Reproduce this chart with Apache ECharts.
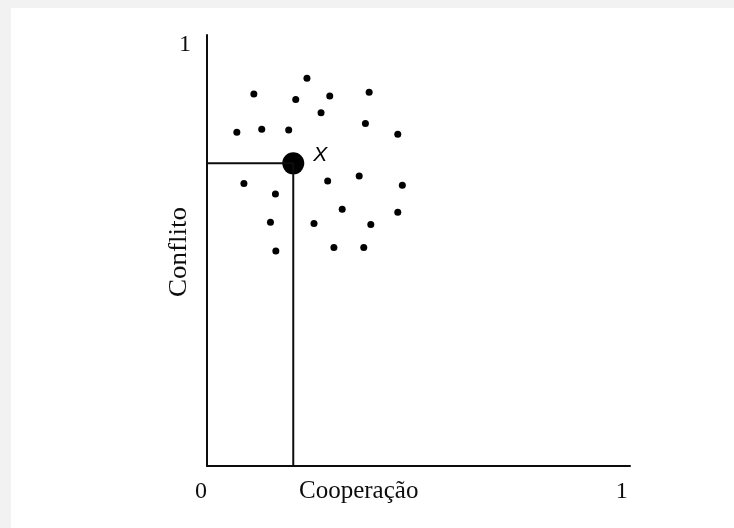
<!DOCTYPE html>
<html>
<head>
<meta charset="utf-8">
<script src="https://cdn.jsdelivr.net/npm/echarts@6/dist/echarts.min.js"></script>
<style>
html,body{margin:0;padding:0;background:#f2f2f2;}
#frame{position:absolute;left:11px;top:8px;right:0;bottom:0;background:#fff;}
#chart{position:absolute;left:0;top:0;width:734px;height:528px;}
</style>
</head>
<body>
<div id="frame"></div>
<div id="chart"></div>
<script>
const xName = 'Cooperação';
const yName = 'Conflito';
const tickLabels = ['0', '1'];
const pointLabel = 'X';
const cloudX = [0.241,0.113,0.214,0.296,0.391,0.275,0.382,0.072,0.132,0.197,0.460,0.089,0.291,0.367,0.471,0.165,0.326,0.460,0.153,0.258,0.395,0.166,0.306,0.378];
const cloudY = [0.921,0.884,0.871,0.879,0.888,0.839,0.814,0.793,0.800,0.798,0.788,0.671,0.677,0.689,0.667,0.646,0.610,0.603,0.579,0.576,0.574,0.511,0.519,0.519];
const pointX = 0.208;
const pointY = 0.719;

const chart = echarts.init(document.getElementById('chart'), null, {renderer:'canvas'});
const serif = 'Liberation Serif';
const ink = '#0d0d0d';
chart.setOption({
  backgroundColor: 'transparent',
  animation: false,
  grid: {left: 207, right: 104, top: 35, bottom: 62},
  xAxis: {
    type: 'value', min: 0, max: 1.02, interval: 1,
    axisLine: {show: true, lineStyle: {color: ink, width: 2}},
    axisTick: {show: false}, splitLine: {show: false},
    axisLabel: {
      margin: 14, fontFamily: serif, fontSize: 24, color: ink,
      alignMinLabel: 'right',
      formatter: v => v === 0 ? tickLabels[0] : (v === 1 ? tickLabels[1] : '')
    }
  },
  yAxis: {
    type: 'value', min: 0, max: 1.024, interval: 1,
    axisLine: {show: true, lineStyle: {color: ink, width: 2}},
    axisTick: {show: false}, splitLine: {show: false},
    axisLabel: {
      margin: 16, fontFamily: serif, fontSize: 24, color: ink,
      formatter: v => v === 1 ? tickLabels[1] : ''
    }
  },
  graphic: [
    {type: 'text', left: 299, top: 479, style: {text: xName, font: '25px "Liberation Serif"', fill: ink}},
    {type: 'text', x: 167, y: 297, rotation: Math.PI/2, scaleX: 1.08, style: {text: yName, font: '25px "Liberation Serif"', fill: ink}}
  ],
  series: [
    {
      type: 'line', symbol: 'none', silent: true,
      lineStyle: {color: ink, width: 2, opacity: 1},
      data: [[0, pointY], [pointX, pointY], [pointX, 0]]
    },
    {
      type: 'scatter', symbolSize: 7, itemStyle: {color: '#000', opacity: 1},
      data: cloudX.map((x, i) => [x, cloudY[i]])
    },
    {
      type: 'scatter', symbolSize: 22, itemStyle: {color: '#000', opacity: 1},
      label: {show: true, position: 'right', distance: 9, offset: [0, -8], formatter: pointLabel,
        fontFamily: 'Liberation Sans', fontStyle: 'italic', fontSize: 21, color: '#000', opacity: 1},
      data: [[pointX, pointY]]
    }
  ]
});
</script>
</body>
</html>
